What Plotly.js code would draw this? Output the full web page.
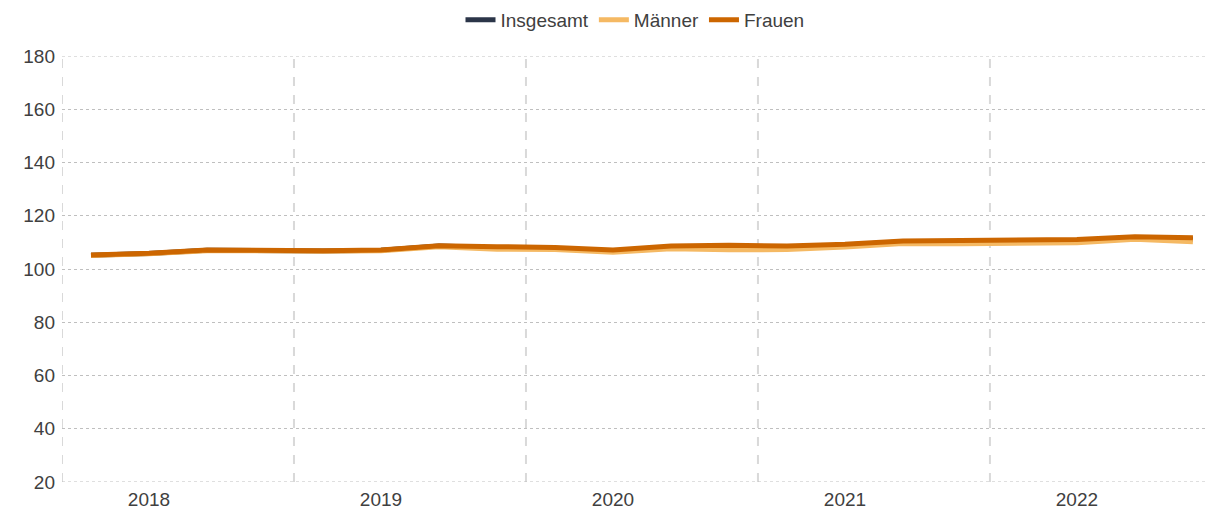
<!DOCTYPE html>
<html>
<head>
<meta charset="utf-8">
<script src="https://cdn.plot.ly/plotly-3.0.1.min.js"></script>
<style>html,body{margin:0;padding:0;background:#fff;overflow:hidden}#chart{width:1208px;height:508px}</style>
</head>
<body>
<div id="chart"></div>
<script>
// Quarterly data, 2018 Q1 .. 2022 Q4
var quarters = ["2018 Q1","2018 Q2","2018 Q3","2018 Q4","2019 Q1","2019 Q2","2019 Q3","2019 Q4","2020 Q1","2020 Q2","2020 Q3","2020 Q4","2021 Q1","2021 Q2","2021 Q3","2021 Q4","2022 Q1","2022 Q2","2022 Q3","2022 Q4"];
var yearLabels = ["2018","2019","2020","2021","2022"];
var insgesamt = [105.2,105.8,107.0,106.8,106.8,107.0,108.6,108.0,107.8,106.8,108.3,108.3,108.1,109.0,110.2,110.3,110.4,110.7,111.8,111.2];
var maenner   = [105.1,105.7,106.9,106.6,106.7,106.9,108.4,107.4,107.3,106.3,107.6,107.2,107.3,108.3,109.6,109.5,109.6,109.9,111.2,110.2];
var frauen    = [105.3,105.9,107.1,106.8,106.9,107.1,108.7,108.4,108.1,107.1,108.6,108.9,108.6,109.3,110.5,110.7,110.9,111.1,112.1,111.7];

var xIdx = quarters.map(function(q,i){return i;});
var yearTickPos = yearLabels.map(function(y,i){return i*4+1;});
var yearBounds = yearLabels.map(function(y,i){return i*4-0.5;});

var traces = [
  {x:xIdx, y:insgesamt, name:"Insgesamt", type:"scatter", mode:"lines", line:{color:"#2b3548", width:5}, text:quarters},
  {x:xIdx, y:maenner, name:"Männer", type:"scatter", mode:"lines", line:{color:"#f5b963", width:5}, text:quarters},
  {x:xIdx, y:frauen, name:"Frauen", type:"scatter", mode:"lines", line:{color:"#cc6600", width:5}, text:quarters}
];

var shapes = [];
yearBounds.forEach(function(b){
  shapes.push({type:"line", xref:"x", yref:"paper", x0:b, x1:b, y0:0, y1:1, line:{color:"#d9d9d9", width:2, dash:"dash"}, layer:"below"});
});
[20,180].forEach(function(v){
  shapes.push({type:"line", xref:"paper", yref:"y", x0:0, x1:1, y0:v, y1:v, line:{color:"#bfbfbf", width:1, dash:"dot"}, layer:"below"});
});

var layout = {
  width:1208, height:508,
  margin:{l:62, r:0, t:56, b:26},
  paper_bgcolor:"#fff", plot_bgcolor:"#fff",
  font:{family:"Liberation Sans, Arial, sans-serif", size:19, color:"#404040"},
  showlegend:true,
  legend:{orientation:"h", x:0.5, xanchor:"center", y:1-20/508, yanchor:"middle", yref:"container", font:{size:19, color:"#404040"}, itemwidth:30, tracegroupgap:0},
  xaxis:{range:[-0.5,19.26], tickmode:"array", tickvals:yearTickPos, ticktext:yearLabels, showgrid:false, zeroline:false, showline:false, ticks:"", ticklabelstandoff:4, fixedrange:true},
  yaxis:{range:[20,180], tickmode:"linear", tick0:20, dtick:20, showgrid:true, gridcolor:"#bfbfbf", gridwidth:1, griddash:"dot", zeroline:false, showline:false, ticks:"", ticklabelstandoff:6},
  shapes:shapes
};
Plotly.newPlot("chart", traces, layout, {displayModeBar:false, staticPlot:true});
</script>
</body>
</html>
